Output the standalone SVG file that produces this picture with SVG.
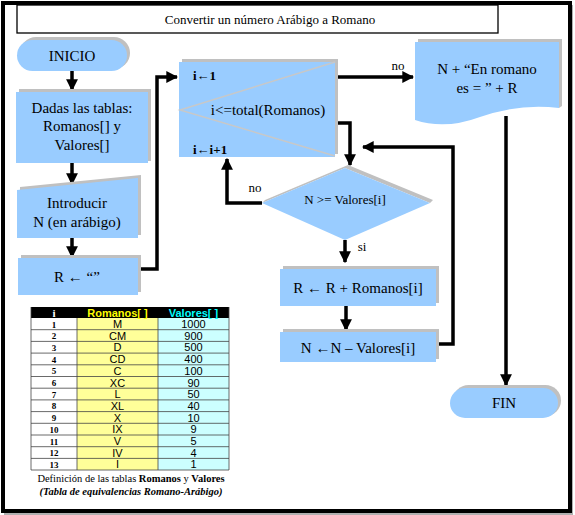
<svg xmlns="http://www.w3.org/2000/svg" width="575" height="515" viewBox="0 0 575 515">
<defs>
<style>
.n{fill:#99CCFF;stroke:none}
.sh{fill:#C0C0C0;stroke:none}
.t{font-family:"Liberation Serif","Times New Roman",serif;font-size:15px;fill:#000;text-anchor:middle}
.tb{font-family:"Liberation Serif","Times New Roman",serif;font-size:13px;font-weight:bold;fill:#000}
.c{fill:none;stroke:#000;stroke-width:3.5}
.lab{font-family:"Liberation Serif","Times New Roman",serif;font-size:13px;fill:#000;text-anchor:middle}
.tn{font-family:"Liberation Sans",Arial,sans-serif;font-size:11px;fill:#000;text-anchor:middle}
.ti{font-family:"Liberation Serif","Times New Roman",serif;font-size:9px;font-weight:bold;fill:#000;text-anchor:middle}
.gl{stroke:#444;stroke-width:0.8}
</style>
<marker id="ah" viewBox="0 0 10 10" refX="9" refY="5" markerWidth="3.4" markerHeight="3.4" orient="auto" markerUnits="strokeWidth">
<path d="M0,0 L10,5 L0,10 Z" fill="#000"/>
</marker>
</defs>
<rect width="575" height="515" fill="#fff"/>
<path d="M572,5 V514 H4" fill="none" stroke="#B0B0B0" stroke-width="2"/>
<rect x="3" y="3" width="567" height="508" fill="none" stroke="#000" stroke-width="4"/>
<g id="title">
<rect x="17" y="5" width="481" height="28" fill="#fff" stroke="#000" stroke-width="1.3"/>
<text x="270" y="24" class="lab">Convertir un número Arábigo a Romano</text>
</g>
<g id="connectors">
<path class="c" d="M72,71 V90" marker-end="url(#ah)"/>
<path class="c" d="M72,163 V184" marker-end="url(#ah)"/>
<path class="c" d="M72,238 V257" marker-end="url(#ah)"/>
<path class="c" d="M138,269 H157 V77 H177" marker-end="url(#ah)"/>
<path class="c" d="M336,77 H413" marker-end="url(#ah)"/>
<path class="c" d="M333,123 H350 V165" marker-end="url(#ah)"/>
<path class="c" d="M262,203 H227 V159" marker-end="url(#ah)"/>
<path class="c" d="M345,240 V262" marker-end="url(#ah)"/>
<path class="c" d="M346,306 V330" marker-end="url(#ah)"/>
<path class="c" d="M436,344 H453 V147 H363" marker-end="url(#ah)"/>
<path class="c" d="M506,116 V385" marker-end="url(#ah)"/>
<text x="398" y="70" class="lab">no</text>
<text x="255" y="192" class="lab">no</text>
<text x="362" y="251" class="lab">si</text>
</g>
<g id="inicio">
<rect class="sh" x="20" y="37" width="110" height="32" rx="16"/>
<rect class="n" x="17" y="40" width="110" height="31" rx="15.5"/>
<text x="72" y="61" class="t">INICIO</text>
</g>
<g id="dadas">
<rect class="sh" x="19" y="89" width="132" height="72"/>
<rect class="n" x="16" y="92" width="132" height="71"/>
<text x="82" y="113" class="t">Dadas las tablas:</text>
<text x="82" y="131" class="t">Romanos[] y</text>
<text x="82" y="150" class="t">Valores[]</text>
</g>
<g id="introducir">
<polygon class="sh" points="20,187 141,175 141,235 20,235"/>
<polygon class="n" points="17,190 138,178 138,238 17,238"/>
<text x="77" y="208" class="t">Introducir</text>
<text x="77" y="227" class="t">N (en arábigo)</text>
</g>
<g id="rinit">
<rect class="sh" x="21" y="255" width="120" height="37"/>
<rect class="n" x="18" y="258" width="120" height="37"/>
<text x="77" y="282" class="t">R ← “”</text>
</g>
<g id="bucle">
<rect class="sh" x="182" y="59" width="156" height="95"/>
<rect class="n" x="179" y="62" width="156" height="95"/>
<path d="M335,62 L180,110 L335,156" fill="none" stroke="#C8C8C8" stroke-width="1.5"/>
<text x="193" y="80" class="tb">i←1</text>
<text x="268" y="115" class="t">i&lt;=total(Romanos)</text>
<text x="193" y="154" class="tb">i←i+1</text>
</g>
<g id="salida">
<path class="sh" d="M418,39 H562 V106 L559,108 V42 H418 Z"/>
<path class="n" d="M415,42 H559 V108 Q520,103 480,117 Q445,130 415,120 Z"/>
<text x="487" y="74" class="t">N + “En romano</text>
<text x="487" y="93" class="t">es = ” + R</text>
</g>
<g id="decision">
<polygon class="sh" points="265,200 348,165 433,200 430,203 345,168 262,203"/>
<polygon class="n" points="262,203 345,168 430,203 345,240"/>
<text x="345" y="204" class="lab">N &gt;= Valores[i]</text>
</g>
<g id="suma">
<rect class="sh" x="283" y="266" width="156" height="37"/>
<rect class="n" x="280" y="269" width="156" height="37"/>
<text x="358" y="293" class="t">R ← R + Romanos[i]</text>
</g>
<g id="resta">
<rect class="sh" x="283" y="329" width="156" height="30"/>
<rect class="n" x="280" y="332" width="156" height="30"/>
<text x="358" y="353" class="t">N  ←N – Valores[i]</text>
</g>
<g id="fin">
<rect class="sh" x="453" y="385" width="108" height="31" rx="15.5"/>
<rect class="n" x="450" y="388" width="108" height="30" rx="15"/>
<text x="504" y="408" class="t">FIN</text>
</g>
<g id="tabla">
<rect x="31" y="307" width="198" height="11" fill="#000"/>
<rect x="31" y="318" width="46" height="152" fill="#fff"/>
<rect x="77" y="318" width="81" height="152" fill="#FFFF99"/>
<rect x="158" y="318" width="71" height="152" fill="#CCFFFF"/>
<g class="gl">
<line x1="31" y1="329.7" x2="229" y2="329.7"/><line x1="31" y1="341.4" x2="229" y2="341.4"/><line x1="31" y1="353.1" x2="229" y2="353.1"/><line x1="31" y1="364.8" x2="229" y2="364.8"/><line x1="31" y1="376.5" x2="229" y2="376.5"/><line x1="31" y1="388.2" x2="229" y2="388.2"/><line x1="31" y1="399.9" x2="229" y2="399.9"/><line x1="31" y1="411.6" x2="229" y2="411.6"/><line x1="31" y1="423.3" x2="229" y2="423.3"/><line x1="31" y1="435" x2="229" y2="435"/><line x1="31" y1="446.7" x2="229" y2="446.7"/><line x1="31" y1="458.4" x2="229" y2="458.4"/><line x1="31" y1="470" x2="229" y2="470"/>
<line x1="31" y1="307" x2="31" y2="470"/><line x1="77" y1="318" x2="77" y2="470"/><line x1="158" y1="318" x2="158" y2="470"/><line x1="229" y1="307" x2="229" y2="470"/>
</g>
<text x="54" y="316.5" class="ti" style="fill:#fff;font-size:11px">i</text>
<text x="117.5" y="316.5" class="tn" style="fill:#FFFF00;font-weight:bold">Romanos[ ]</text>
<text x="193.5" y="316.5" class="tn" style="fill:#00FFFF;font-weight:bold">Valores[ ]</text>
<g class="ti"><text x="54" y="327.5">1</text><text x="54" y="339.2">2</text><text x="54" y="350.9">3</text><text x="54" y="362.6">4</text><text x="54" y="374.3">5</text><text x="54" y="386">6</text><text x="54" y="397.7">7</text><text x="54" y="409.4">8</text><text x="54" y="421.1">9</text><text x="54" y="432.8">10</text><text x="54" y="444.5">11</text><text x="54" y="456.2">12</text><text x="54" y="467.9">13</text></g>
<g class="tn"><text x="117.5" y="328">M</text><text x="117.5" y="339.7">CM</text><text x="117.5" y="351.4">D</text><text x="117.5" y="363.1">CD</text><text x="117.5" y="374.8">C</text><text x="117.5" y="386.5">XC</text><text x="117.5" y="398.2">L</text><text x="117.5" y="409.9">XL</text><text x="117.5" y="421.6">X</text><text x="117.5" y="433.3">IX</text><text x="117.5" y="445">V</text><text x="117.5" y="456.7">IV</text><text x="117.5" y="468.4">I</text></g>
<g class="tn"><text x="193.5" y="328">1000</text><text x="193.5" y="339.7">900</text><text x="193.5" y="351.4">500</text><text x="193.5" y="363.1">400</text><text x="193.5" y="374.8">100</text><text x="193.5" y="386.5">90</text><text x="193.5" y="398.2">50</text><text x="193.5" y="409.9">40</text><text x="193.5" y="421.6">10</text><text x="193.5" y="433.3">9</text><text x="193.5" y="445">5</text><text x="193.5" y="456.7">4</text><text x="193.5" y="468.4">1</text></g>
<text x="131" y="482" class="lab" style="font-size:10.5px">Definición de las tablas <tspan font-weight="bold">Romanos</tspan> y <tspan font-weight="bold">Valores</tspan></text>
<text x="131" y="495" class="lab" style="font-size:10.5px;font-weight:bold;font-style:italic">(Tabla de equivalencias Romano-Arábigo)</text>
</g>
</svg>
